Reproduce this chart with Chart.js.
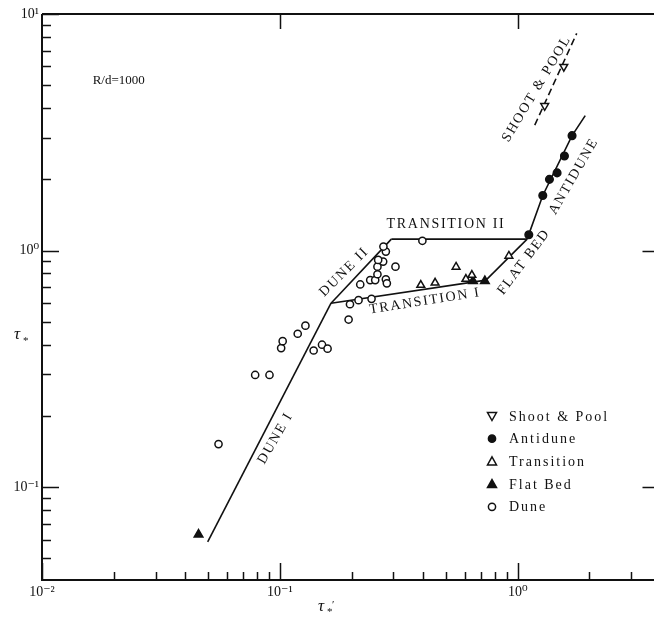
<!DOCTYPE html>
<html>
<head>
<meta charset="utf-8">
<script src="https://cdn.jsdelivr.net/npm/chart.js@4.4.1/dist/chart.umd.min.js"></script>
<style>
  html, body { margin: 0; padding: 0; background: #fff; }
  #wrap { width: 654px; height: 620px; position: relative; overflow: hidden; }
</style>
</head>
<body>
<div id="wrap"><canvas id="chart" width="662" height="620"></canvas></div>
<script>
// Measured points (tau*' , tau*)
const duneX = [0.0552, 0.0787, 0.0904, 0.1012, 0.1027, 0.1188, 0.128, 0.1386, 0.1503, 0.1586, 0.1944, 0.197, 0.214, 0.2427, 0.2176, 0.2396, 0.2515, 0.257, 0.2788, 0.2815, 0.257, 0.2716, 0.2588, 0.306, 0.2788, 0.2723, 0.397];
const duneY = [0.152, 0.298, 0.298, 0.387, 0.414, 0.445, 0.4815, 0.378, 0.40, 0.385, 0.511, 0.593, 0.617, 0.625, 0.719, 0.75, 0.75, 0.794, 0.756, 0.727, 0.855, 0.898, 0.913, 0.855, 0.99, 1.04, 1.1];
const transitionX = [0.391, 0.449, 0.55, 0.605, 0.641, 0.917];
const transitionY = [0.715, 0.731, 0.853, 0.758, 0.788, 0.949];
const flatBedX = [0.0455, 0.648, 0.727];
const flatBedY = [0.063, 0.743, 0.743];
const antiduneX = [1.112, 1.273, 1.358, 1.462, 1.57, 1.69];
const antiduneY = [1.166, 1.71, 2.0, 2.13, 2.51, 3.06];
const shootX = [1.297, 1.56];
const shootY = [4.09, 5.99];

// Regime boundaries
const duneILineX = [0.0497, 0.164];
const duneILineY = [0.0587, 0.599];
const duneIILineX = [0.164, 0.294];
const duneIILineY = [0.599, 1.118];
const transILineX = [0.164, 0.735];
const transILineY = [0.599, 0.75];
const transIILineX = [0.294, 1.094];
const transIILineY = [1.118, 1.118];
const flatLineX = [0.735, 1.094];
const flatLineY = [0.75, 1.118];
const antiLineX = [1.094, 1.273, 1.69, 1.92];
const antiLineY = [1.118, 1.71, 3.06, 3.72];
const shootLineX = [1.178, 1.768];
const shootLineY = [3.39, 8.28];

// Axis range and tick labels
const xMin = 0.01, xMax = 3.79;
const yMin = 0.0405, yMax = 10;
const powerLabels = { '-2': '10⁻²', '-1': '10⁻¹', '0': '10⁰', '1': '10¹' };

// Region labels: text, tau*', tau*, angle in degrees
const regionLabels = [
  ['DUNE I', 0.0957, 0.161, -60],
  ['DUNE II', 0.1864, 0.812, -45],
  ['TRANSITION II', 0.499, 1.286, 0],
  ['TRANSITION I', 0.407, 0.611, -9],
  ['FLAT BED', 1.06, 0.895, -53],
  ['ANTIDUNE', 1.717, 2.06, -60],
  ['SHOOT & POOL', 1.2, 4.83, -59]
];

function pts(xs, ys) {
  return xs.map((x, i) => ({ x: x, y: ys[i] }));
}

const serif = '"Liberation Serif", "DejaVu Serif", serif';

function lineSet(xs, ys, dashed) {
  return {
    type: 'line',
    data: pts(xs, ys),
    borderColor: '#111',
    borderWidth: 1.6,
    borderDash: dashed ? [7, 4] : [],
    pointRadius: 0,
    fill: false,
    tension: 0,
    order: 2
  };
}

function markerSet(label, xs, ys, style, filled, radius, rotation) {
  return {
    type: 'scatter',
    label: label,
    data: pts(xs, ys),
    pointStyle: style,
    pointRotation: rotation || 0,
    pointRadius: radius,
    pointBorderWidth: 1.5,
    pointBorderColor: '#111',
    pointBackgroundColor: filled ? '#111' : '#fff',
    order: 1
  };
}

function isPower(v) {
  const l = Math.log10(v);
  return Math.abs(l - Math.round(l)) < 1e-6;
}

function minorTicks(lo, hi) {
  const out = [];
  for (let d = -3; d <= 1; d++) {
    for (let k = 1; k <= 9; k++) {
      const v = k * Math.pow(10, d);
      if (v >= lo * 0.999 && v <= hi * 1.001) out.push(v);
    }
  }
  return out;
}

// draws the inward ticks, frame, titles, region names and legend
const framePlugin = {
  id: 'frame',
  afterDraw(chart) {
    const ctx = chart.ctx;
    const a = chart.chartArea;
    const xs = chart.scales.x, ys = chart.scales.y;
    ctx.save();
    ctx.strokeStyle = '#111';
    ctx.fillStyle = '#111';

    // frame
    ctx.lineWidth = 2;
    ctx.beginPath();
    ctx.moveTo(a.left, a.top);
    ctx.lineTo(a.left, a.bottom);
    ctx.lineTo(a.right, a.bottom);
    ctx.lineTo(a.right, a.top);
    ctx.lineTo(a.left, a.top);
    ctx.stroke();

    // ticks
    ctx.lineWidth = 1.5;
    ctx.beginPath();
    minorTicks(xMin, xMax).forEach(v => {
      const px = Math.round(xs.getPixelForValue(v)) + 0.5;
      const len = isPower(v) ? 17 : 8;
      ctx.moveTo(px, a.bottom);
      ctx.lineTo(px, a.bottom - len);
      if (isPower(v) && v > xMin) {
        ctx.moveTo(px, a.top);
        ctx.lineTo(px, a.top + 15);
      }
    });
    minorTicks(yMin, yMax).forEach(v => {
      const py = Math.round(ys.getPixelForValue(v)) + 0.5;
      const len = isPower(v) ? 17 : 9;
      ctx.moveTo(a.left, py);
      ctx.lineTo(a.left + len, py);
      if (isPower(v) && v < yMax) {
        ctx.moveTo(a.right, py);
        ctx.lineTo(a.right - 13, py);
      }
    });
    ctx.stroke();

    // axis titles
    ctx.font = 'italic 17px ' + serif;
    ctx.textBaseline = 'alphabetic';
    ctx.textAlign = 'left';
    ctx.fillText('τ', 14, 339);
    ctx.font = '11px ' + serif;
    ctx.fillText('*', 23, 344);
    ctx.font = 'italic 17px ' + serif;
    ctx.fillText('τ', 318, 611);
    ctx.font = '11px ' + serif;
    ctx.fillText('*', 327, 615);
    ctx.fillText('′', 332, 608);

    // R/d note
    ctx.font = '13px ' + serif;
    ctx.letterSpacing = '0px';
    ctx.fillText('R/d=1000', xs.getPixelForValue(0.0206) - 24, ys.getPixelForValue(5.32) + 5);

    // region names
    ctx.font = '14px ' + serif;
    ctx.letterSpacing = '1.7px';
    ctx.textAlign = 'center';
    ctx.textBaseline = 'middle';
    regionLabels.forEach(r => {
      ctx.save();
      ctx.translate(xs.getPixelForValue(r[1]), ys.getPixelForValue(r[2]));
      ctx.rotate(r[3] * Math.PI / 180);
      ctx.fillText(r[0], 0, 0);
      ctx.restore();
    });

    // legend
    const legend = [
      ['Shoot & Pool', 'down', false],
      ['Antidune', 'circle', true],
      ['Transition', 'up', false],
      ['Flat Bed', 'up', true],
      ['Dune', 'circle', false]
    ];
    ctx.textAlign = 'left';
    ctx.letterSpacing = '2px';
    ctx.lineWidth = 1.5;
    legend.forEach((e, i) => {
      const cx = 492, cy = 416 + i * 22.7;
      ctx.beginPath();
      if (e[1] === 'circle') {
        ctx.arc(cx, cy, 3.6, 0, Math.PI * 2);
      } else if (e[1] === 'up') {
        ctx.moveTo(cx, cy - 4.5);
        ctx.lineTo(cx + 4.5, cy + 3.5);
        ctx.lineTo(cx - 4.5, cy + 3.5);
        ctx.closePath();
      } else {
        ctx.moveTo(cx, cy + 4.5);
        ctx.lineTo(cx + 4.5, cy - 3.5);
        ctx.lineTo(cx - 4.5, cy - 3.5);
        ctx.closePath();
      }
      if (e[2]) { ctx.fill(); } else { ctx.fillStyle = '#fff'; ctx.fill(); ctx.fillStyle = '#111'; }
      ctx.stroke();
      ctx.fillText(e[0], 509, cy + 1);
    });
    ctx.restore();
  }
};

new Chart(document.getElementById('chart'), {
  type: 'scatter',
  data: {
    datasets: [
      markerSet('Shoot & Pool', shootX, shootY, 'triangle', false, 4.5, 180),
      markerSet('Antidune', antiduneX, antiduneY, 'circle', true, 3.8),
      markerSet('Transition', transitionX, transitionY, 'triangle', false, 4.5),
      markerSet('Flat Bed', flatBedX, flatBedY, 'triangle', true, 5),
      markerSet('Dune', duneX, duneY, 'circle', false, 3.6),
      lineSet(duneILineX, duneILineY),
      lineSet(duneIILineX, duneIILineY),
      lineSet(transILineX, transILineY),
      lineSet(transIILineX, transIILineY),
      lineSet(flatLineX, flatLineY),
      lineSet(antiLineX, antiLineY),
      lineSet(shootLineX, shootLineY, true)
    ]
  },
  options: {
    responsive: false,
    animation: false,
    layout: { padding: { top: 14, right: 0, left: 0, bottom: 0 } },
    plugins: {
      legend: { display: false },
      tooltip: { enabled: false }
    },
    scales: {
      x: {
        type: 'logarithmic',
        min: xMin,
        max: xMax,
        grid: { display: false, drawTicks: false },
        border: { display: false },
        ticks: {
          autoSkip: false,
          maxRotation: 0,
          color: '#111',
          padding: 4,
          font: { family: serif, size: 14 },
          callback: v => isPower(v) ? powerLabels[Math.round(Math.log10(v))] : ''
        },
        afterFit: s => { s.height = 40; s.paddingLeft = 0; s.paddingRight = 0; }
      },
      y: {
        type: 'logarithmic',
        min: yMin,
        max: yMax,
        grid: { display: false, drawTicks: false },
        border: { display: false },
        ticks: {
          autoSkip: false,
          color: '#111',
          padding: 3,
          font: { family: serif, size: 14 },
          callback: v => isPower(v) ? powerLabels[Math.round(Math.log10(v))] : ''
        },
        afterFit: s => { s.width = 42; s.paddingTop = 0; s.paddingBottom = 0; }
      }
    }
  },
  plugins: [framePlugin]
});
</script>
</body>
</html>
